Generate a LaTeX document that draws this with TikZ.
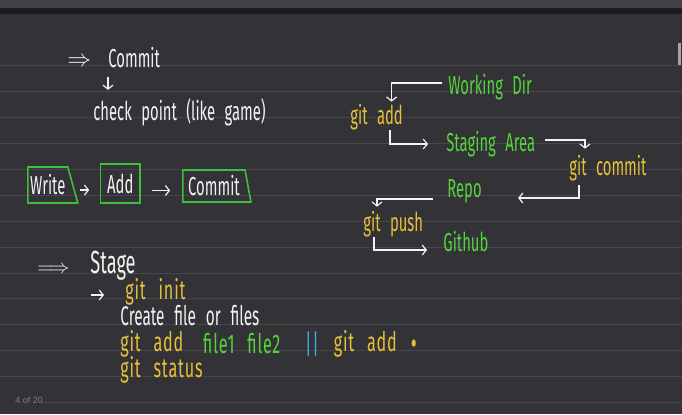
\documentclass[tikz,border=0pt]{standalone}
\usepackage{fontspec}
\setmainfont{Fira Sans}
\newfontfamily\hand[FakeStretch=0.57,WordSpace=2.4]{Fira Sans}
\newfontfamily\handwide[FakeStretch=0.6,WordSpace=2.5,LetterSpace=3]{Fira Sans}
\newfontfamily\uifont{Liberation Sans}
\usetikzlibrary{arrows.meta,positioning,shapes.geometric}
\definecolor{board}{HTML}{333237}
\definecolor{rulegray}{HTML}{46454A}
\definecolor{chalk}{HTML}{F2F2F2}
\definecolor{gityel}{HTML}{E6C03A}
\definecolor{gitgrn}{HTML}{55D43C}
\definecolor{boxgrn}{HTML}{3CBF3C}
\definecolor{pipe}{HTML}{40B0E0}
\tikzset{note/.style={text=chalk,font={\hand\fontsize{13}{15}\selectfont},inner sep=0pt,anchor=west},cmd/.style={note,text=gityel},place/.style={note,text=gitgrn},wide/.style={font={\handwide\fontsize{13.5}{15}\selectfont}},flow/.style={-{Straight Barb[length=2pt,width=5pt]},draw=chalk,line width=.6pt},stepbox/.style={note,anchor=center,draw=boxgrn,line width=.8pt,inner xsep=.5pt,inner ysep=2pt},rule/.style={draw=rulegray,line width=.5pt}}

\begin{document}
\begin{tikzpicture}[x=.5pt,y=-.5pt]
\useasboundingbox (0,0) rectangle (682,414);
\fill[board] (0,0) rectangle (682,414);
\fill[board!92!white] (0,0) rectangle (682,8);\fill[board!55!black] (0,8) rectangle (682,14);
\foreach \k in {0,...,12}{\draw[rule](0,65.7+25.92*\k)--(682,65.7+25.92*\k);}
\draw[rule](42,402.7)--(682,402.7);
\fill[chalk!60!board] (678,43) rectangle (680.5,65);
% commit idea
\node[note] (imp1) at (67,62) {$\Rightarrow$};
\node[note] (cmt) at (108,58) {Commit};
\node[note] (chk) at (93,112) {check point (like game)};
\draw[flow,shorten <=4pt,shorten >=4pt] (cmt.south west) -- (cmt.south west |- chk.north);
% write add commit
\node[stepbox,trapezium,trapezium left angle=90,trapezium right angle=72,trapezium stretches=true,minimum width=25pt,minimum height=18pt] (write) at (47.8,185) {Write};
\node[stepbox,minimum width=19.7pt,minimum height=19.5pt] (add) at (120.3,183.5) {Add};
\node[stepbox,trapezium,trapezium left angle=90,trapezium right angle=80,trapezium stretches=true,minimum width=34pt,minimum height=16pt] (commit) at (214,186) {Commit};
\draw[flow,shorten <=3pt,shorten >=5.3pt] ([yshift=-2.5pt]write.east) -- ([yshift=-2.5pt]write.east -| add.west);
\draw[flow,shorten <=5.5pt,shorten >=6pt] ([yshift=-3.5pt]add.east) -- ([yshift=-3.5pt]add.east -| commit.west);
% git flow
\node[place] (wd) at (448,87) {Working Dir};
\node[cmd] (gadd) at (350,117) {git add};
\node[place] (stg) at (446,144) {Staging Area};
\node[cmd] (gcom) at (569,168) {git commit};
\node[place] (repo) at (447,191) {Repo};
\node[cmd] (gpush) at (363,224) {git push};
\node[place] (hub) at (443,242) {Github};
\draw[flow,shorten <=3pt,shorten >=1pt] ([yshift=2pt]wd.west) -| ([xshift=20.8pt]gadd.north west);
\draw[flow,shorten >=9pt] ([xshift=20pt]gadd.south west) |- (stg.west);
\draw[flow,shorten <=5pt,shorten >=3pt] ([yshift=2pt]stg.east) -| ([xshift=8pt]gcom.north west);
\draw[flow,shorten <=2pt,shorten >=18pt] ([xshift=5pt]gcom.south west) |- ([yshift=-3.5pt]repo.east);
\draw[flow,shorten <=7pt,shorten >=2pt] ([yshift=-4pt]repo.west) -| ([xshift=7pt]gpush.north west);
\draw[flow,shorten >=8pt] ([xshift=5.5pt]gpush.south west) |- ([yshift=-4pt]hub.west);
% stage
\node[note,font=\fontsize{10}{12}\selectfont] (imp2) at (37,270) {$\Longrightarrow$};
\node[note,font={\hand\fontsize{16}{18}\selectfont}] (stage) at (90,266) {Stage};
\node[cmd,wide] (init) at (125,292) {git init};
\coordinate (pt) at (91,295);
\draw[flow,shorten >=10.5pt] (pt) -- (pt -| init.west);
\node[note,font={\hand\fontsize{13.5}{15}\selectfont}] (create) at (120,316) {Create file or files};
\node[cmd,wide] (gadd2) at (120,344) {git add};
\node[place,wide,right=9.5pt of gadd2] (files) {file1 file2};
\node[note,wide,text=pipe,right=12pt of files] (bars) {||};
\node[cmd,wide,right=7pt of bars] (gadd3) {git add};
\node[cmd,right=7pt of gadd3,font={\hand\fontsize{20}{20}\selectfont\bfseries}] (dot) {.};
\node[cmd,wide] (status) at (120,370) {git status};
\node[anchor=west,inner sep=0pt,text=gray,font={\uifont\fontsize{4.5}{5}\selectfont}] (pg) at (15,400) {4 of 20};
\end{tikzpicture}
\end{document}
